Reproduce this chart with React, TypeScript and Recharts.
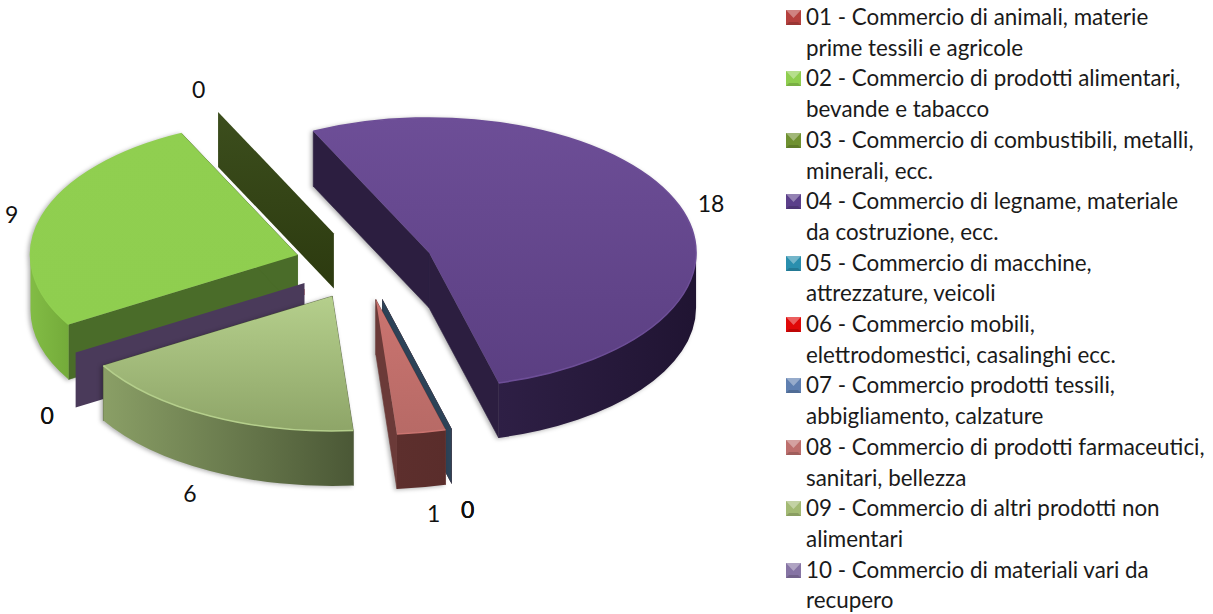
import React from 'react';
import { PieChart, Pie, Legend } from 'recharts';

const categories = [
  '01 - Commercio di animali, materie\nprime tessili e agricole',
  '02 - Commercio di prodotti alimentari,\nbevande e tabacco',
  '03 - Commercio di combustibili, metalli,\nminerali, ecc.',
  '04 - Commercio di legname, materiale\nda costruzione, ecc.',
  '05 - Commercio di macchine,\nattrezzature, veicoli',
  '06 - Commercio mobili,\nelettrodomestici, casalinghi ecc.',
  '07 - Commercio prodotti tessili,\nabbigliamento, calzature',
  '08 - Commercio di prodotti farmaceutici,\nsanitari, bellezza',
  '09 - Commercio di altri prodotti non\nalimentari',
  '10 - Commercio di materiali vari da\nrecupero',
];
const values = [0, 9, 0, 18, 0, 0, 0, 1, 6, 0];
const swatchColors = ['#b5403e', '#8fce4f', '#6f9130', '#5b3f8a', '#2a8fae', '#e00808', '#5f7fb0', '#bd6f6d', '#a3ba74', '#8674a4'];

// per slice colours: top light, top dark, outer wall left, outer wall right, cut wall
const sliceColors = [
  ['#4a3a5a', '#4a3a5a', '#4a3a5a', '#4a3a5a', '#4a3a5a'],
  ['#90cf50', '#8fce4f', '#82bc45', '#74ab3a', '#4a6c29'],
  ['#3c4e1d', '#2c3a0f', '#2c3a0f', '#2c3a0f', '#33441a'],
  ['#6d4e97', '#5b3f82', '#2e1f45', '#201432', '#2c1e40'],
  ['#2a5f75', '#2a5f75', '#2a5f75', '#2a5f75', '#2a5f75'],
  ['#7a2020', '#7a2020', '#7a2020', '#7a2020', '#7a2020'],
  ['#2d4358', '#2d4358', '#2d4358', '#2d4358', '#2d4358'],
  ['#cb7470', '#b76a66', '#5d2f2d', '#5a2d2b', '#6b3a38'],
  ['#b5cf8c', '#8ea568', '#8a9f66', '#4b5836', '#4b5836'],
  ['#4a3a5a', '#4a3a5a', '#4a3a5a', '#4a3a5a', '#4a3a5a'],
];

const rows = categories.map((name, i) => ({ name, value: values[i], index: i }));

// draw order, painted back to front
const layers = [[1, 2, 3, 4, 5, 6], [9, 0], [8, 7]];

const TILT = 0.505;
const DEPTH = 55;
const EXPLODE = 0.26;
const RAD = Math.PI / 180;

const drawSlice = (layer: number[]) => (props: any) => {
  const { cx, cy, outerRadius: r, startAngle: a1, endAngle: a2, midAngle, payload } = props;
  const i = payload?.index ?? props.index;
  if (!layer.includes(i)) return <g />;
  const [topA, topB, wallA, wallB, cut] = sliceColors[i];
  const mid = midAngle ?? (a1 + a2) / 2;
  const ax = cx + EXPLODE * r * Math.cos(mid * RAD);
  const ay = cy - EXPLODE * r * TILT * Math.sin(mid * RAD);
  const at = (a: number, dy = 0): [number, number] => [
    ax + r * Math.cos(a * RAD),
    ay - r * TILT * Math.sin(a * RAD) + dy,
  ];
  const radialWall = (a: number) => {
    const [x, y] = at(a);
    return `M${ax},${ay} L${x},${y} L${x},${y + DEPTH} L${ax},${ay + DEPTH} Z`;
  };

  // zero slices end up as flat planes
  if (a1 === a2) {
    if (i === 0) {
      const [x, y] = at(a1);
      const lines = [4, 10, 16, 24];
      return (
        <g>
          {lines.map((d, n) => (
            <line
              key={d}
              x1={ax - 4}
              y1={ay + d}
              x2={ax + (x - ax) * (0.28 + n * 0.14)}
              y2={ay + d + (y - ay) * (0.28 + n * 0.14)}
              stroke="#8a2020"
              strokeWidth={1}
              strokeDasharray="2 3"
              opacity={0.75}
            />
          ))}
          <rect x={ax - 5} y={ay + 6} width={5} height={6} fill="#a02020" />
        </g>
      );
    }
    return <path d={radialWall(a1)} fill={`url(#top${i})`} />;
  }

  const [sx, sy] = at(a1);
  const [ex, ey] = at(a2);
  const large = Math.abs(a1 - a2) > 180 ? 1 : 0;
  const rx = r;
  const ry = r * TILT;

  // part of the rim that faces the viewer
  let wall = '';
  [-360, 0, 360].forEach((s) => {
    const hi = Math.min(a1, s);
    const lo = Math.max(a2, s - 180);
    if (hi > lo) {
      const [hx, hy] = at(hi);
      const [lx, ly] = at(lo);
      wall = `M${hx},${hy} A${rx},${ry} 0 0 1 ${lx},${ly} L${lx},${ly + DEPTH} A${rx},${ry} 0 0 0 ${hx},${hy + DEPTH} Z`;
    }
  });

  return (
    <g style={{ filter: 'drop-shadow(-2px 1px 2px rgba(0,0,0,0.3))' }}>
      <path d={radialWall(a1)} fill={cut} stroke={cut} strokeWidth={0.6} />
      <path d={radialWall(a2)} fill={cut} stroke={cut} strokeWidth={0.6} />
      {wall && <path d={wall} fill={`url(#wall${i})`} />}
      <path d={`M${ax},${ay} L${sx},${sy} A${rx},${ry} 0 ${large} 1 ${ex},${ey} Z`} fill={`url(#top${i})`} />
      <path d={`M${sx},${sy} A${rx},${ry} 0 ${large} 1 ${ex},${ey}`} fill="none" stroke={topA} strokeWidth={1.5} />
    </g>
  );
};

// rough fit of where the labels sit around the tilted pie
const drawLabel = (props: any) => {
  const { cx, cy, midAngle, value } = props;
  const c = Math.cos(midAngle * RAD);
  const s = Math.sin(midAngle * RAD);
  const x = cx + 1 + Math.sign(c) * 368 * Math.pow(Math.abs(c), 0.95);
  const y = s >= 0 ? cy - 4 - (150 * s + 45 * s * s) : cy + 43 - 208 * s;
  return (
    <text x={x} y={y} textAnchor="middle" dominantBaseline="central" fontSize={23} fontFamily="Lato, sans-serif" fill="#111">
      {value}
    </text>
  );
};

const Swatch = ({ color }: { color: string }) => (
  <svg width={15} height={15} style={{ position: 'absolute', left: -20, top: 8 }}>
    <rect width={15} height={15} fill={color} />
    <path d="M0,0 L15,0 L7.5,8 Z" fill="#fff" opacity={0.35} />
    <path d="M0,15 L15,15 L12,12 L3,12 Z" fill="#000" opacity={0.15} />
  </svg>
);

const renderLegend = (props: any) => {
  // every stacked Pie reports its rows, keep each category once
  const seen = new Set<string>();
  const items = (props.payload || [])
    .filter((item: any) => {
      if (seen.has(item.value)) return false;
      seen.add(item.value);
      return true;
    })
    .sort((p: any, q: any) => String(p.value).localeCompare(String(q.value)));
  return (
    <div style={{ fontFamily: 'Lato, sans-serif', fontSize: 22.4, lineHeight: '30.7px', color: '#1a1a1a' }}>
      {items.map((item: any, i: number) => (
        <div key={item.value} style={{ position: 'relative', whiteSpace: 'pre', marginLeft: 26 }}>
          <Swatch color={swatchColors[i]} />
          {item.value}
        </div>
      ))}
    </div>
  );
};

export default function App() {
  return (
    <div style={{ position: 'absolute', left: 0, top: 0, width: 1213, height: 614, background: '#fff' }}>
      <PieChart width={1213} height={614} margin={{ top: 0, right: 0, bottom: 0, left: 0 }}>
        <defs>
          {sliceColors.map((c, i) => (
            <React.Fragment key={i}>
              <linearGradient id={`top${i}`} x1="0" y1="0" x2="0" y2="1">
                <stop offset="0%" stopColor={c[0]} />
                <stop offset="100%" stopColor={c[1]} />
              </linearGradient>
              <linearGradient id={`wall${i}`} x1="0" y1="0" x2="1" y2="0">
                <stop offset="0%" stopColor={c[2]} />
                <stop offset="100%" stopColor={c[3]} />
              </linearGradient>
            </React.Fragment>
          ))}
        </defs>
        {layers.map((layer, n) => (
          <Pie
            key={n}
            data={rows}
            dataKey="value"
            nameKey="name"
            cx={364}
            cy={265}
            innerRadius={0}
            outerRadius={267}
            startAngle={211}
            endAngle={-149}
            stroke="none"
            legendType={n === 0 ? 'square' : 'none'}
            shape={drawSlice(layer)}
            isAnimationActive={false}
          />
        ))}
        <Pie
          data={rows}
          dataKey="value"
          nameKey="name"
          cx={364}
          cy={265}
          innerRadius={0}
          outerRadius={267}
          startAngle={211}
          endAngle={-149}
          fill="none"
          stroke="none"
          legendType="none"
          shape={() => <g />}
          label={drawLabel}
          labelLine={false}
          isAnimationActive={false}
        />
        <Legend
          layout="vertical"
          align="right"
          verticalAlign="top"
          content={renderLegend}
          wrapperStyle={{ left: 780, top: 2, width: 433 }}
        />
      </PieChart>
    </div>
  );
}
